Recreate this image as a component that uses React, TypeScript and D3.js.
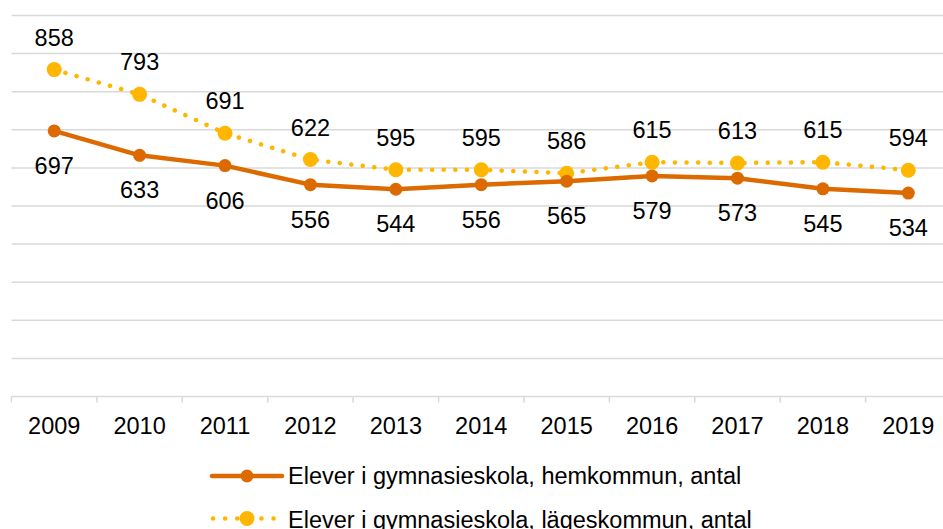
import React, { useEffect, useRef } from "react";
import * as d3 from "d3";

const years = ["2009", "2010", "2011", "2012", "2013", "2014", "2015", "2016", "2017", "2018", "2019"];
const hemkommun = [697, 633, 606, 556, 544, 556, 565, 579, 573, 545, 534];
const lageskommun = [858, 793, 691, 622, 595, 595, 586, 615, 613, 615, 594];
const yTicks = [0, 100, 200, 300, 400, 500, 600, 700, 800, 900, 1000];
const seriesNames = [
  "Elever i gymnasieskola, hemkommun, antal",
  "Elever i gymnasieskola, lägeskommun, antal",
];

const W = 943;
const H = 529;
const ORANGE = "#DC6A00";
const GOLD = "#FFB600";
const FONT = "'Liberation Sans', Arial, sans-serif";
const FS = 23.5;

export default function App() {
  const ref = useRef<SVGSVGElement>(null);

  useEffect(() => {
    const svg = d3.select(ref.current);
    svg.selectAll("*").remove();

    const x = d3.scaleBand().domain(years).range([11.5, 951]);
    const y = d3.scaleLinear().domain([0, 1000]).range([396.5, 15.5]);
    const cx = (d: string) => (x(d) as number) + x.bandwidth() / 2;

    // gridlines
    svg.append("g")
      .selectAll("line")
      .data(yTicks.filter((t) => t > 0))
      .enter()
      .append("line")
      .attr("x1", 11.5)
      .attr("x2", W)
      .attr("y1", (d) => y(d))
      .attr("y2", (d) => y(d))
      .attr("stroke", "#d9d9d9")
      .attr("stroke-width", 1.5);

    // x axis
    const xAxis = svg.append("g").attr("transform", `translate(0,${y(0)})`);
    xAxis.append("line")
      .attr("x1", 11.5).attr("x2", W)
      .attr("stroke", "#d9d9d9").attr("stroke-width", 1.5);
    xAxis.selectAll("line.tick")
      .data(d3.range(years.length + 1))
      .enter()
      .append("line")
      .attr("class", "tick")
      .attr("x1", (i) => 11.5 + i * x.step())
      .attr("x2", (i) => 11.5 + i * x.step())
      .attr("y1", 0).attr("y2", 6)
      .attr("stroke", "#d9d9d9").attr("stroke-width", 1.5);
    xAxis.selectAll("text")
      .data(years)
      .enter()
      .append("text")
      .attr("x", (d) => cx(d))
      .attr("y", 37.5)
      .attr("text-anchor", "middle")
      .attr("font-family", FONT)
      .attr("font-size", FS)
      .attr("fill", "#000")
      .text((d) => d);

    const line = d3.line<number>()
      .x((_, i) => cx(years[i]))
      .y((d) => y(d));

    // lägeskommun (dotted)
    svg.append("path")
      .datum(lageskommun)
      .attr("d", line)
      .attr("fill", "none")
      .attr("stroke", GOLD)
      .attr("stroke-width", 4.5)
      .attr("stroke-linecap", "round")
      .attr("stroke-dasharray", "0.1 11.5");
    svg.append("g")
      .selectAll("circle")
      .data(lageskommun)
      .enter()
      .append("circle")
      .attr("cx", (_, i) => cx(years[i]))
      .attr("cy", (d) => y(d))
      .attr("r", 7.5)
      .attr("fill", GOLD);

    // hemkommun (solid)
    svg.append("path")
      .datum(hemkommun)
      .attr("d", line)
      .attr("fill", "none")
      .attr("stroke", ORANGE)
      .attr("stroke-width", 4.5)
      .attr("stroke-linejoin", "round");
    svg.append("g")
      .selectAll("circle")
      .data(hemkommun)
      .enter()
      .append("circle")
      .attr("cx", (_, i) => cx(years[i]))
      .attr("cy", (d) => y(d))
      .attr("r", 6.5)
      .attr("fill", ORANGE);

    // data labels
    svg.append("g")
      .selectAll("text")
      .data(lageskommun)
      .enter()
      .append("text")
      .attr("x", (_, i) => cx(years[i]))
      .attr("y", (d) => y(d) - 24)
      .attr("text-anchor", "middle")
      .attr("font-family", FONT)
      .attr("font-size", FS)
      .text((d) => d);
    svg.append("g")
      .selectAll("text")
      .data(hemkommun)
      .enter()
      .append("text")
      .attr("x", (_, i) => cx(years[i]))
      .attr("y", (d) => y(d) + 43)
      .attr("text-anchor", "middle")
      .attr("font-family", FONT)
      .attr("font-size", FS)
      .text((d) => d);

    // legend
    const lg = svg.append("g");
    lg.append("line")
      .attr("x1", 212).attr("x2", 282)
      .attr("y1", 476).attr("y2", 476)
      .attr("stroke", ORANGE).attr("stroke-width", 4.5)
      .attr("stroke-linecap", "round");
    lg.append("circle").attr("cx", 247).attr("cy", 476).attr("r", 6.5).attr("fill", ORANGE);
    lg.append("text")
      .attr("x", 288).attr("y", 484)
      .attr("font-family", FONT).attr("font-size", FS)
      .text(seriesNames[0]);

    lg.append("line")
      .attr("x1", 213).attr("x2", 282)
      .attr("y1", 518.5).attr("y2", 518.5)
      .attr("stroke", GOLD).attr("stroke-width", 4.5)
      .attr("stroke-linecap", "round")
      .attr("stroke-dasharray", "0.1 12");
    lg.append("circle").attr("cx", 247).attr("cy", 518.5).attr("r", 7.5).attr("fill", GOLD);
    lg.append("text")
      .attr("x", 288).attr("y", 528)
      .attr("font-family", FONT).attr("font-size", FS)
      .text(seriesNames[1]);
  }, []);

  return (
    <svg
      ref={ref}
      width={W}
      height={H}
      style={{ position: "absolute", left: 0, top: 0, background: "#fff" }}
    />
  );
}
